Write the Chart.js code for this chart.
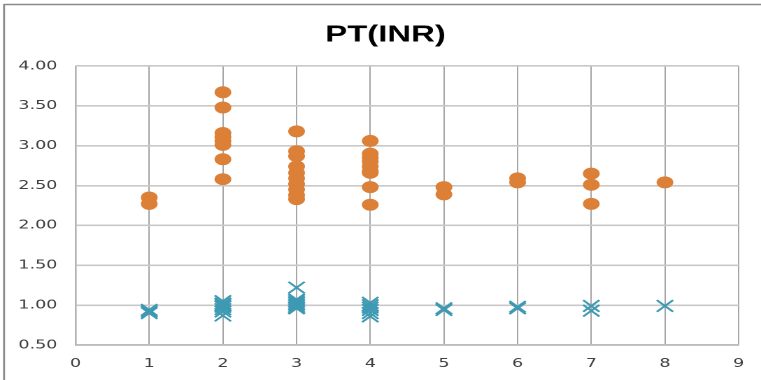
<!DOCTYPE html>
<html>
<head>
<meta charset="utf-8">
<script src="https://cdn.jsdelivr.net/npm/chart.js@4"></script>
<style>
  html, body { margin: 0; padding: 0; background: #ffffff; overflow: hidden; }
  #wrap { position: absolute; left: 0; top: 0; width: 544px; height: 380px;
          transform: scaleX(1.3989); transform-origin: 0 0; }
</style>
</head>
<body>
<div id="wrap"><canvas id="c"></canvas></div>
<script>
// ---- data ----
const chartTitle = "PT(INR)";
const xTicks = [0, 1, 2, 3, 4, 5, 6, 7, 8, 9];
const yTicks = [0.5, 1.0, 1.5, 2.0, 2.5, 3.0, 3.5, 4.0];

const ptX = [1, 1,
             2, 2, 2, 2, 2, 2, 2, 2,
             3, 3, 3, 3, 3, 3, 3, 3, 3, 3,
             4, 4, 4, 4, 4, 4, 4, 4, 4,
             5, 5,
             6, 6,
             7, 7, 7,
             8];
const ptY = [2.35, 2.27,
             3.67, 3.48, 3.16, 3.11, 3.06, 3.01, 2.83, 2.58,
             3.18, 2.93, 2.87, 2.74, 2.66, 2.59, 2.52, 2.45, 2.38, 2.33,
             3.06, 2.90, 2.85, 2.80, 2.74, 2.68, 2.66, 2.48, 2.26,
             2.48, 2.39,
             2.59, 2.54,
             2.65, 2.51, 2.27,
             2.54];

const inrX = [1, 1, 1,
              2, 2, 2, 2, 2, 2, 2,
              3, 3, 3, 3, 3, 3, 3, 3,
              4, 4, 4, 4, 4, 4,
              5, 5,
              6, 6,
              7, 7,
              8];
const inrY = [0.94, 0.92, 0.90,
              1.05, 1.02, 1.00, 0.98, 0.95, 0.92, 0.87,
              1.22, 1.07, 1.05, 1.03, 1.01, 0.99, 0.97, 0.96,
              1.03, 1.00, 0.97, 0.94, 0.90, 0.86,
              0.96, 0.94,
              0.98, 0.96,
              0.99, 0.93,
              0.99];

const toPoints = (xs, ys) => xs.map((x, i) => ({ x: x, y: ys[i] }));

const framePlugin = {
  id: 'frame',
  afterDraw(chart) {
    const ctx = chart.ctx;
    ctx.save();
    ctx.strokeStyle = '#8a8a8a';
    ctx.lineWidth = 1.5;
    ctx.beginPath();
    ctx.moveTo(2.9, 4.5);
    ctx.lineTo(chart.width, 4.5);
    ctx.stroke();
    ctx.lineWidth = 1.4;
    ctx.beginPath();
    ctx.moveTo(2.9, 4);
    ctx.lineTo(2.9, chart.height);
    ctx.stroke();
    // chart title
    ctx.fillStyle = '#000000';
    ctx.font = 'bold 23.5px "Liberation Sans"';
    ctx.textAlign = 'center';
    ctx.textBaseline = 'alphabetic';
    ctx.fillText(chartTitle, 275.6, 41.5);
    ctx.restore();
  }
};

new Chart(document.getElementById('c'), {
  type: 'scatter',
  data: {
    datasets: [
      {
        label: 'PT',
        data: toPoints(ptX, ptY),
        pointStyle: 'circle',
        pointRadius: 6,
        pointBorderWidth: 0,
        backgroundColor: '#DC8038',
        borderColor: '#DC8038'
      },
      {
        label: 'INR',
        data: toPoints(inrX, inrY),
        pointStyle: 'crossRot',
        pointRadius: 8.2,
        pointBorderWidth: 1.7,
        backgroundColor: '#3E9AB3',
        borderColor: '#3E9AB3'
      }
    ]
  },
  options: {
    responsive: true,
    maintainAspectRatio: false,
    animation: false,
    devicePixelRatio: 2,
    layout: { padding: { left: 0, right: 16, top: 66, bottom: 0 } },
    plugins: {
      legend: { display: false },
      tooltip: { enabled: false },
      title: { display: false }
    },
    scales: {
      x: {
        type: 'linear',
        min: xTicks[0],
        max: xTicks[xTicks.length - 1],
        afterBuildTicks: (s) => { s.ticks = xTicks.map(v => ({ value: v })); },
        afterFit: (s) => { s.height = 35; },
        ticks: {
          color: '#404040',
          font: { family: 'DejaVu Sans', size: 12.5 },
          padding: 11,
          maxRotation: 0,
          callback: (v) => String(v)
        },
        grid: { color: '#a6a6a6', lineWidth: 1, drawTicks: false },
        border: { color: '#b3b3b3', width: 1.3 }
      },
      y: {
        type: 'linear',
        min: yTicks[0],
        max: yTicks[yTicks.length - 1],
        afterBuildTicks: (s) => { s.ticks = yTicks.map(v => ({ value: v })); },
        afterFit: (s) => { s.width = 54; },
        ticks: {
          color: '#404040',
          font: { family: 'DejaVu Sans', size: 12.5 },
          padding: 13,
          callback: (v) => Number(v).toFixed(2)
        },
        grid: { color: '#c8c8c8', lineWidth: 1.6, drawTicks: false },
        border: { color: '#b3b3b3', width: 1.3 }
      }
    }
  },
  plugins: [framePlugin]
});
</script>
</body>
</html>
